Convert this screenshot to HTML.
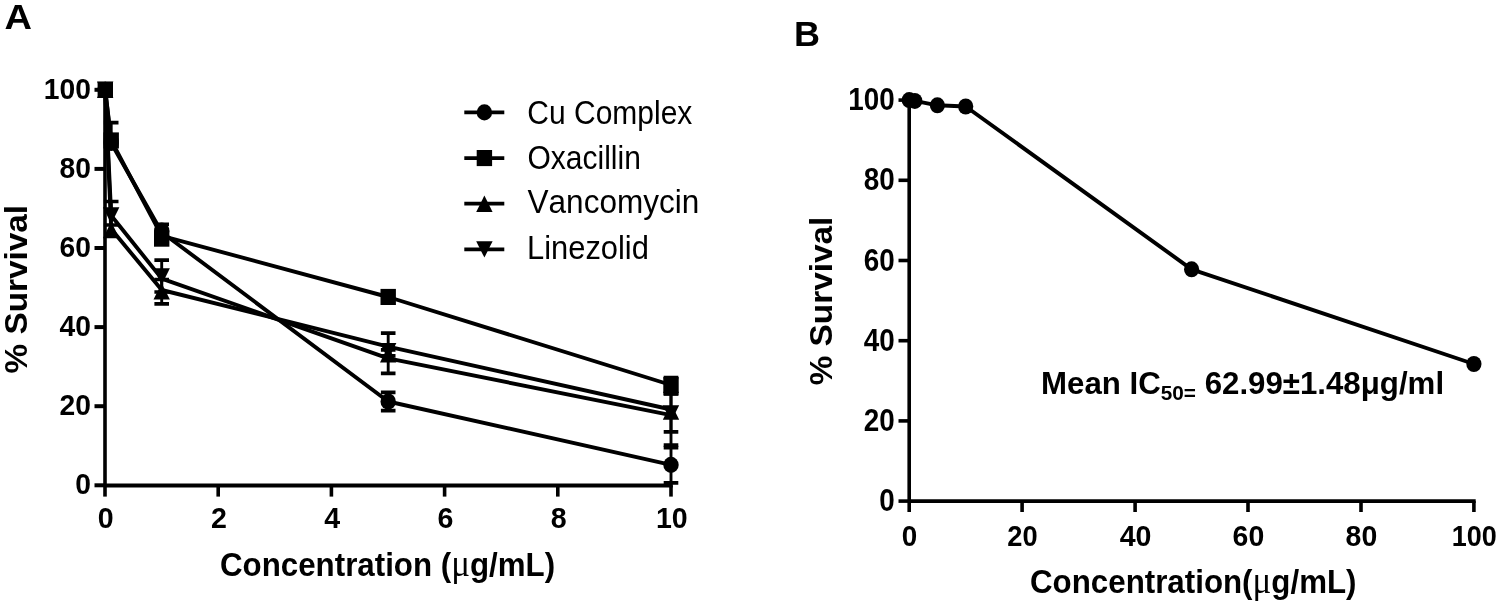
<!DOCTYPE html>
<html lang="en"><head><meta charset="utf-8"><title>Survival curves</title>
<style>html,body{margin:0;padding:0;background:#fff}svg{display:block}text{fill:#000;font-kerning:none}</style></head><body>
<svg width="1500" height="604" viewBox="0 0 1500 604">
<rect width="1500" height="604" fill="#fff"/>
<g font-family="Liberation Sans, Arial, Helvetica, sans-serif" fill="#000">
<text transform="translate(4.6,29.4) scale(1.057,0.977)" font-size="36" font-weight="bold">A</text>
<text transform="translate(794.0,46.1) scale(1.0,0.99)" font-size="36" font-weight="bold">B</text>
<path d="M105,88.0V485.3" fill="none" stroke="#000" stroke-width="3.6"/>
<path d="M105,485.4H672.8" fill="none" stroke="#000" stroke-width="4.0"/>
<path d="M94.5,485.3H105" stroke="#000" stroke-width="4.0"/>
<text transform="translate(91.0,494.4) scale(0.975,1.046)" font-size="29" font-weight="bold" text-anchor="end">0</text>
<path d="M94.5,406.2H105" stroke="#000" stroke-width="4.0"/>
<text transform="translate(91.0,415.3) scale(0.975,1.046)" font-size="29" font-weight="bold" text-anchor="end">20</text>
<path d="M94.5,327.1H105" stroke="#000" stroke-width="4.0"/>
<text transform="translate(91.0,336.2) scale(0.975,1.046)" font-size="29" font-weight="bold" text-anchor="end">40</text>
<path d="M94.5,248.0H105" stroke="#000" stroke-width="4.0"/>
<text transform="translate(91.0,257.1) scale(0.975,1.046)" font-size="29" font-weight="bold" text-anchor="end">60</text>
<path d="M94.5,168.9H105" stroke="#000" stroke-width="4.0"/>
<text transform="translate(91.0,178.0) scale(0.975,1.046)" font-size="29" font-weight="bold" text-anchor="end">80</text>
<path d="M94.5,89.8H105" stroke="#000" stroke-width="4.0"/>
<text transform="translate(91.0,98.9) scale(0.975,1.046)" font-size="29" font-weight="bold" text-anchor="end">100</text>
<path d="M105.0,485.3V496.6" stroke="#000" stroke-width="3.6"/>
<text transform="translate(105.8,528.3) scale(0.985,1.046)" font-size="29" font-weight="bold" text-anchor="middle">0</text>
<path d="M218.2,485.3V496.6" stroke="#000" stroke-width="3.6"/>
<text transform="translate(219.0,528.3) scale(0.985,1.046)" font-size="29" font-weight="bold" text-anchor="middle">2</text>
<path d="M331.4,485.3V496.6" stroke="#000" stroke-width="3.6"/>
<text transform="translate(332.2,528.3) scale(0.985,1.046)" font-size="29" font-weight="bold" text-anchor="middle">4</text>
<path d="M444.6,485.3V496.6" stroke="#000" stroke-width="3.6"/>
<text transform="translate(445.4,528.3) scale(0.985,1.046)" font-size="29" font-weight="bold" text-anchor="middle">6</text>
<path d="M557.8,485.3V496.6" stroke="#000" stroke-width="3.6"/>
<text transform="translate(558.6,528.3) scale(0.985,1.046)" font-size="29" font-weight="bold" text-anchor="middle">8</text>
<path d="M671.0,485.3V496.6" stroke="#000" stroke-width="3.6"/>
<text transform="translate(671.8,528.3) scale(0.985,1.046)" font-size="29" font-weight="bold" text-anchor="middle">10</text>
<text transform="translate(220.0,576.3) scale(1.0,1.085)" font-size="31.3" font-weight="bold">Concentration (<tspan font-family="Liberation Serif, serif" font-weight="normal" font-size="35">μ</tspan>g/mL)</text>
<text transform="translate(27.2,373.5) rotate(-90) scale(1.065,1.0)" font-size="31.3" font-weight="bold">% Survival</text>
<polyline fill="none" stroke="#000" stroke-width="3.9" stroke-linejoin="round" points="105.2,89.8 111.2,143.0 161.7,232.2 388.2,401.5 671.0,464.9"/>
<polyline fill="none" stroke="#000" stroke-width="3.9" stroke-linejoin="round" points="105.2,89.8 111.2,140.5 161.7,235.8 388.2,297.0 671.0,385.0"/>
<polyline fill="none" stroke="#000" stroke-width="3.9" stroke-linejoin="round" points="105.2,89.8 111.2,229.0 161.7,290.0 388.2,346.7 671.0,409.5"/>
<polyline fill="none" stroke="#000" stroke-width="3.9" stroke-linejoin="round" points="105.2,89.8 111.2,215.5 161.7,278.6 388.2,358.3 671.0,415.2"/>
<path d="M111.2,122.7V140.0" fill="none" stroke="#000" stroke-width="2.9"/>
<path d="M103.9,122.7H118.5M103.9,140.0H118.5" fill="none" stroke="#000" stroke-width="3.7"/>
<path d="M111.2,201.5V225.0" fill="none" stroke="#000" stroke-width="2.9"/>
<path d="M103.9,201.5H118.5M103.9,225.0H118.5" fill="none" stroke="#000" stroke-width="3.7"/>
<path d="M161.7,224.3V240.0" fill="none" stroke="#000" stroke-width="2.9"/>
<path d="M154.4,224.3H169.0M154.4,240.0H169.0" fill="none" stroke="#000" stroke-width="3.7"/>
<path d="M161.7,260.2V292.0" fill="none" stroke="#000" stroke-width="2.9"/>
<path d="M154.4,260.2H169.0M154.4,292.0H169.0" fill="none" stroke="#000" stroke-width="3.7"/>
<path d="M161.7,279.5V303.8" fill="none" stroke="#000" stroke-width="2.9"/>
<path d="M154.4,279.5H169.0M154.4,303.8H169.0" fill="none" stroke="#000" stroke-width="3.7"/>
<path d="M388.2,333.2V373.3" fill="none" stroke="#000" stroke-width="2.9"/>
<path d="M380.9,333.2H395.5M380.9,373.3H395.5" fill="none" stroke="#000" stroke-width="3.7"/>
<path d="M388.2,349.8V355.8" fill="none" stroke="#000" stroke-width="2.9"/>
<path d="M380.9,349.8H395.5M380.9,355.8H395.5" fill="none" stroke="#000" stroke-width="3.7"/>
<path d="M388.2,392.4V410.7" fill="none" stroke="#000" stroke-width="2.9"/>
<path d="M380.9,392.4H395.5M380.9,410.7H395.5" fill="none" stroke="#000" stroke-width="3.7"/>
<path d="M671.0,377.5V393.6" fill="none" stroke="#000" stroke-width="2.9"/>
<path d="M663.7,377.5H678.3M663.7,393.6H678.3" fill="none" stroke="#000" stroke-width="3.7"/>
<path d="M671.0,393.6V431.9" fill="none" stroke="#000" stroke-width="2.9"/>
<path d="M663.7,393.6H678.3M663.7,431.9H678.3" fill="none" stroke="#000" stroke-width="3.7"/>
<path d="M671.0,393.6V445.2" fill="none" stroke="#000" stroke-width="2.9"/>
<path d="M663.7,393.6H678.3M663.7,445.2H678.3" fill="none" stroke="#000" stroke-width="3.7"/>
<path d="M671.0,447.6V482.8" fill="none" stroke="#000" stroke-width="2.9"/>
<path d="M663.7,447.6H678.3M663.7,482.8H678.3" fill="none" stroke="#000" stroke-width="3.7"/>
<ellipse cx="105.2" cy="89.8" rx="7.7" ry="8.09"/>
<ellipse cx="111.2" cy="143.0" rx="7.7" ry="8.09"/>
<ellipse cx="161.7" cy="230.7" rx="7.7" ry="8.09"/>
<ellipse cx="388.2" cy="401.5" rx="7.7" ry="8.09"/>
<ellipse cx="671.0" cy="464.9" rx="7.7" ry="8.09"/>
<polygon points="105.2,81.6 113.4,98.0 97.0,98.0"/>
<polygon points="111.2,221.8 119.4,238.2 103.0,238.2"/>
<polygon points="161.7,283.2 169.9,299.6 153.5,299.6"/>
<polygon points="388.2,346.1 396.4,362.5 380.0,362.5"/>
<polygon points="671.0,403.4 679.2,419.8 662.8,419.8"/>
<polygon points="105.2,98.0 113.4,81.6 97.0,81.6"/>
<polygon points="111.2,223.7 119.4,207.3 103.0,207.3"/>
<polygon points="161.7,284.7 169.9,268.3 153.5,268.3"/>
<polygon points="388.2,359.4 396.4,343.0 380.0,343.0"/>
<polygon points="671.0,421.6 679.2,405.2 662.8,405.2"/>
<rect x="97.6" y="81.9" width="15.4" height="16.1"/>
<rect x="103.5" y="132.4" width="15.4" height="16.1"/>
<rect x="154.0" y="230.6" width="15.4" height="16.1"/>
<rect x="380.5" y="288.9" width="15.4" height="16.1"/>
<rect x="663.3" y="376.9" width="15.4" height="16.1"/>
<path d="M464.3,112.4H504.3" stroke="#000" stroke-width="3.7"/>
<ellipse cx="484.4" cy="112.4" rx="7.7" ry="8.09"/>
<text transform="translate(527.3,123.6) scale(1.0,1.085)" font-size="30">Cu Complex</text>
<path d="M464.3,158.1H504.3" stroke="#000" stroke-width="3.7"/>
<rect x="476.7" y="150.0" width="15.4" height="16.1"/>
<text transform="translate(527.5,169.2) scale(1.0,1.085)" font-size="30">Oxacillin</text>
<path d="M464.3,203.7H504.3" stroke="#000" stroke-width="3.7"/>
<polygon points="484.4,195.5 492.6,211.9 476.2,211.9"/>
<text transform="translate(527.5,213.2) scale(1.052,1.085)" font-size="30">Vancomycin</text>
<path d="M464.3,249.3H504.3" stroke="#000" stroke-width="3.7"/>
<polygon points="484.4,257.6 492.6,241.2 476.2,241.2"/>
<text transform="translate(527.0,259.0) scale(1.03,1.085)" font-size="30">Linezolid</text>
<path d="M909.2,98.3V501.1M909.2,501.1H1475.7" fill="none" stroke="#000" stroke-width="3.6"/>
<path d="M898.5,501.1H909.2" stroke="#000" stroke-width="3.6"/>
<text transform="translate(894.7,511.1) scale(0.96,1.065)" font-size="29" font-weight="bold" text-anchor="end">0</text>
<path d="M898.5,420.9H909.2" stroke="#000" stroke-width="3.6"/>
<text transform="translate(894.7,430.9) scale(0.96,1.065)" font-size="29" font-weight="bold" text-anchor="end">20</text>
<path d="M898.5,340.7H909.2" stroke="#000" stroke-width="3.6"/>
<text transform="translate(894.7,350.7) scale(0.96,1.065)" font-size="29" font-weight="bold" text-anchor="end">40</text>
<path d="M898.5,260.5H909.2" stroke="#000" stroke-width="3.6"/>
<text transform="translate(894.7,270.5) scale(0.96,1.065)" font-size="29" font-weight="bold" text-anchor="end">60</text>
<path d="M898.5,180.3H909.2" stroke="#000" stroke-width="3.6"/>
<text transform="translate(894.7,190.3) scale(0.96,1.065)" font-size="29" font-weight="bold" text-anchor="end">80</text>
<path d="M898.5,100.1H909.2" stroke="#000" stroke-width="3.6"/>
<text transform="translate(894.7,110.1) scale(0.96,1.065)" font-size="29" font-weight="bold" text-anchor="end">100</text>
<path d="M909.2,501.1V512" stroke="#000" stroke-width="3.6"/>
<text transform="translate(909.6,546.2) scale(0.96,1.035)" font-size="29" font-weight="bold" text-anchor="middle">0</text>
<path d="M1022.1,501.1V512" stroke="#000" stroke-width="3.6"/>
<text transform="translate(1022.5,546.2) scale(0.94,1.035)" font-size="29" font-weight="bold" text-anchor="middle">20</text>
<path d="M1135.1,501.1V512" stroke="#000" stroke-width="3.6"/>
<text transform="translate(1135.5,546.2) scale(0.985,1.035)" font-size="29" font-weight="bold" text-anchor="middle">40</text>
<path d="M1248.0,501.1V512" stroke="#000" stroke-width="3.6"/>
<text transform="translate(1248.4,546.2) scale(0.98,1.035)" font-size="29" font-weight="bold" text-anchor="middle">60</text>
<path d="M1361.0,501.1V512" stroke="#000" stroke-width="3.6"/>
<text transform="translate(1361.4,546.2) scale(0.98,1.035)" font-size="29" font-weight="bold" text-anchor="middle">80</text>
<path d="M1473.9,501.1V512" stroke="#000" stroke-width="3.6"/>
<text transform="translate(1474.3,546.2) scale(0.93,1.035)" font-size="29" font-weight="bold" text-anchor="middle">100</text>
<text transform="translate(1030.0,592.8) scale(1.0,1.065)" font-size="31.3" font-weight="bold">Concentration(<tspan font-family="Liberation Serif, serif" font-weight="normal" font-size="35">μ</tspan>g/mL)</text>
<text transform="translate(832.2,385.3) rotate(-90) scale(1.065,1.0)" font-size="31.3" font-weight="bold">% Survival</text>
<polyline fill="none" stroke="#000" stroke-width="3.9" stroke-linejoin="round" points="909.2,100.1 914.8,100.9 937.4,105.3 965.7,106.5 1191.6,269.3 1473.9,364.0"/>
<ellipse cx="909.2" cy="100.1" rx="7.6" ry="7.98"/>
<ellipse cx="914.8" cy="100.9" rx="7.6" ry="7.98"/>
<ellipse cx="937.4" cy="105.3" rx="7.6" ry="7.98"/>
<ellipse cx="965.7" cy="106.5" rx="7.6" ry="7.98"/>
<ellipse cx="1191.6" cy="269.3" rx="7.6" ry="7.98"/>
<ellipse cx="1473.9" cy="364.0" rx="7.6" ry="7.98"/>
<text transform="translate(1041.0,393.6) scale(1.008,1.0)" font-size="31" font-weight="bold">Mean IC<tspan font-size="20.6" dy="6.5">50=</tspan><tspan dy="-6.5"> 62.99±1.48μg/ml</tspan></text>
</g></svg></body></html>
